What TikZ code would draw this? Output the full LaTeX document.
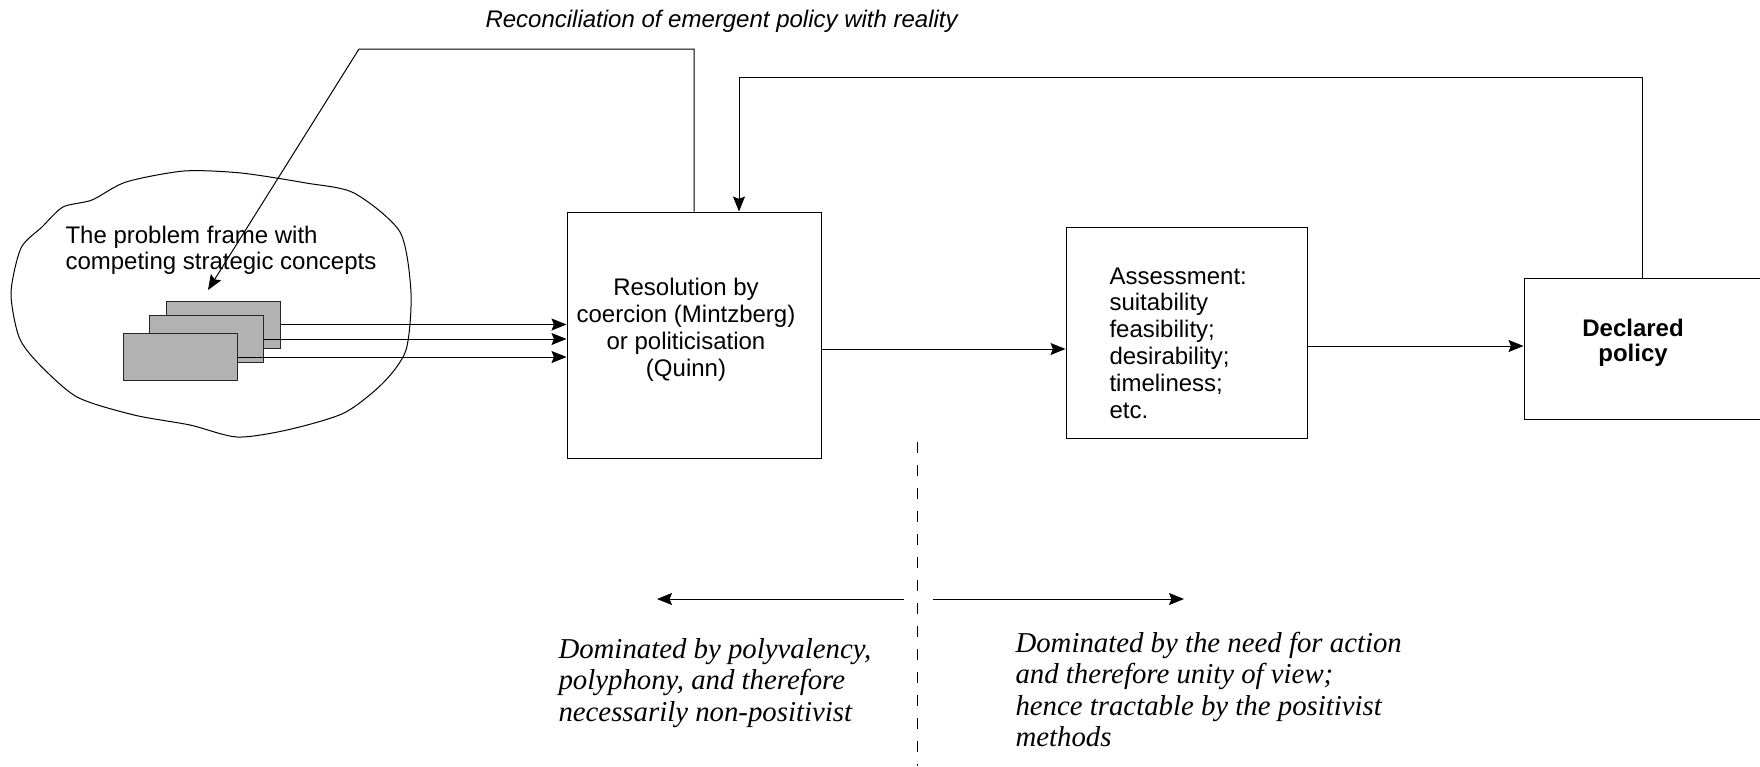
\documentclass[tikz,border=0pt]{standalone}
\usepackage{fontspec}
\setmainfont{Liberation Sans}
\newfontfamily\timesfont{Liberation Serif}
\usetikzlibrary{arrows.meta}
\begin{document}
\begin{tikzpicture}%
	[x={(0.5pt,0pt)},
	y={(0pt,-0.5pt)},
	line width=0.5pt,
	box/.style={draw, inner sep=0pt},
	card/.style={draw=black!85, fill=black!30, minimum width=57pt, minimum height=23.5pt, inner sep=0pt},
	link/.style={-{Stealth[length=7.5pt,width=6pt,inset=1.2pt]}},
	boxtext/.style={inner sep=0pt, font=\fontsize{12}{13.4}\selectfont},
	note/.style={inner sep=0pt, align=left, font=\timesfont\itshape\fontsize{14.4}{15.75}\selectfont}]
%
\useasboundingbox (0,0) rectangle (1760,766);
%
%% Coordinates of the free ends:
%%
\coordinate (recon corner) at (359,49);
\coordinate (recon tip) at (208,290);
\coordinate (feedback right) at (1642,77);
\coordinate (feedback left) at (739,77);
\coordinate (left start) at (904,599);
\coordinate (left tip) at (657,599);
\coordinate (right start) at (933,599);
\coordinate (right tip) at (1184,599);
\coordinate (divide top) at (917,442);
\coordinate (divide bottom) at (917,766);
%%
%%
%% The problem frame
%%
\draw plot[smooth cycle, tension=0.45] coordinates {(63,207) (92,200) (126,182) (184,171)
  (241,173) (306,183) (354,193) (400,232) (411,293) (406,350) (383,383) (344,413)
  (287,430) (237,437) (190,425) (134,415) (77,397) (38,363) (19,337) (11,293)
  (21,248) (42,227)};
\node[boxtext, align=left, anchor=base west, font=\fontsize{12}{13}\selectfont] (frame) at (65,269)
  {The problem frame with\\competing strategic concepts};
\node[card] (back) at (223.5,324.5) {};
\node[card] (middle) at (206.5,339) {};
\node[card] (front) at (180,357) {};
%%
%%
%% The boxes
%%
\node[box, minimum width=127pt, minimum height=123pt] (res) at (694,335) {};
\node[box, minimum width=120.5pt, minimum height=105.5pt] (ass) at (1186.5,332.5) {};
\node[box, minimum width=138pt, minimum height=70.5pt] (dec) at (1662,348.5) {};
\node[boxtext, align=center, anchor=base] (res text) at (686,376)
  {Resolution by\\coercion (Mintzberg)\\or politicisation\\(Quinn)};
\node[boxtext, align=left, anchor=base west] (ass text) at (1109,418)
  {Assessment:\\suitability\\feasibility;\\desirability;\\timeliness;\\etc.};
\node[boxtext, align=center, anchor=base, font=\fontsize{12}{12.2}\selectfont\bfseries] (dec text) at (1633,361)
  {Declared\\policy};
%%
%%
%% Connectors
%%
\draw[link] (back.east) -- (back.east -| res.west);
\draw[link] (middle.east) -- (middle.east -| res.west);
\draw[link] (front.east) -- (front.east -| res.west);
\draw[link] ([yshift=-7pt]res.east) -- ([yshift=-7pt]res.east -| ass.west);
\draw[link] ([yshift=-6.75pt]ass.east) -- ([yshift=-6.75pt]ass.east -| dec.west);
\draw[link] (feedback right |- dec.north) -- (feedback right) -- (feedback left) -- (feedback left |- res.north);
\draw[link] (res.north) -- (res.north |- recon corner) -- (recon corner) -- (recon tip);
\node[boxtext, anchor=base west, font=\fontsize{12}{13.4}\selectfont\itshape] (recon) at (485,27)
  {Reconciliation of emergent policy with reality};
%%
%%
%% The divide
%%
\draw[dash pattern=on 5.5pt off 6pt] (divide top) -- (divide bottom);
\draw[link] (left start) -- (left tip);
\draw[link] (right start) -- (right tip);
\node[note, anchor=base west] (left note) at (558,721)
  {Dominated by polyvalency,\\polyphony, and therefore\\necessarily non-positivist};
\node[note, anchor=base west] (right note) at (1015,746.5)
  {Dominated by the need for action\\and therefore unity of view;\\hence tractable by the positivist\\methods};
%%
%%
\end{tikzpicture}
\end{document}
